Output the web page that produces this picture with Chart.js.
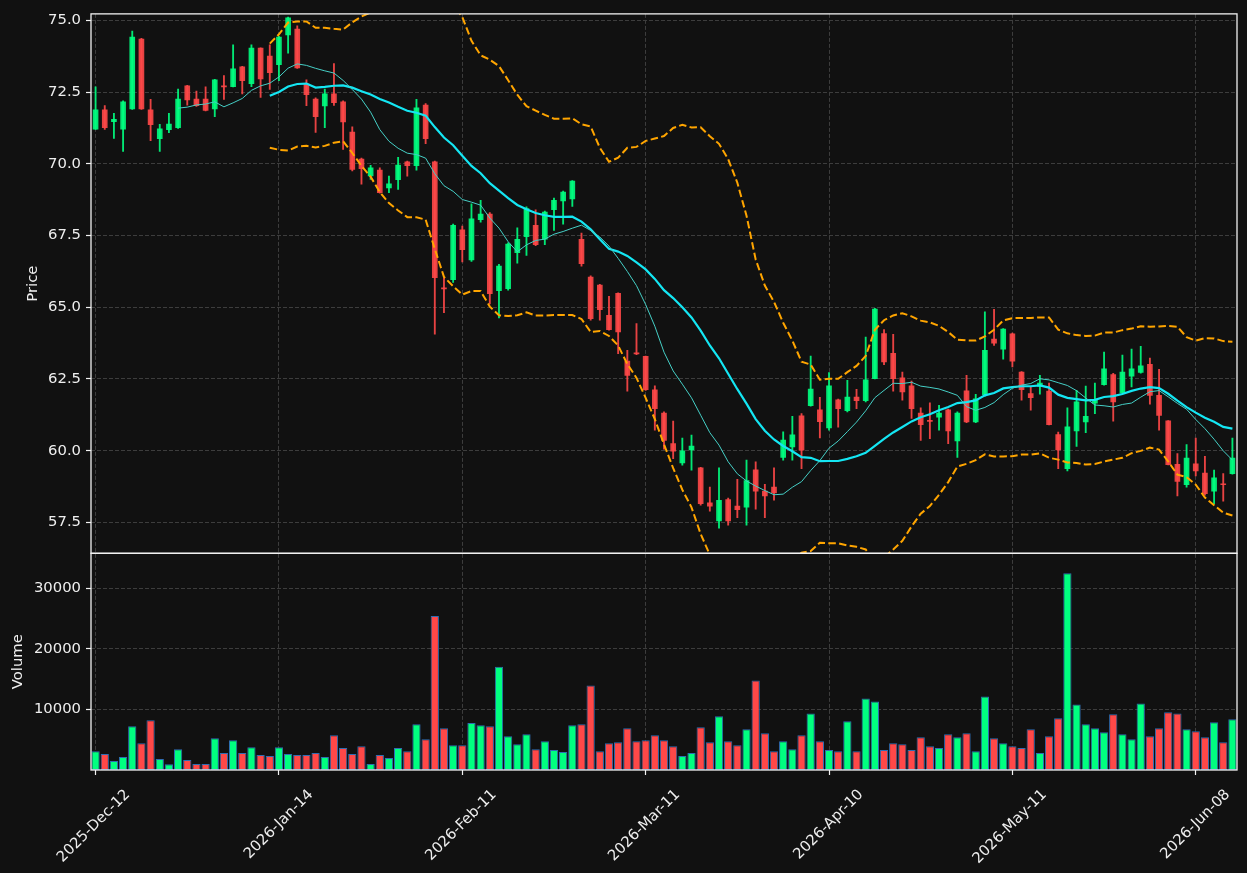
<!DOCTYPE html>
<html>
<head>
<meta charset="utf-8">
<script src="https://cdn.jsdelivr.net/npm/chart.js@4.4.1/dist/chart.umd.min.js"></script>
<style>
  html, body { margin: 0; padding: 0; background: #111111; }
  #wrap { width: 1247px; height: 873px; }
</style>
</head>
<body>
<div id="wrap"><canvas id="chart" width="1247" height="873"></canvas></div>
<script>
// daily OHLCV (125 trading days)
const opens = [71.21,71.88,71.47,71.21,71.92,74.35,71.88,70.88,71.19,71.26,
  72.72,72.26,72.26,71.92,72.72,72.69,73.38,72.80,74.04,73.76,
  73.46,74.50,74.70,72.79,72.26,72.02,72.44,72.16,71.11,70.17,
  69.58,69.78,69.16,69.45,70.07,69.94,72.05,70.07,65.67,65.96,
  67.70,66.65,68.05,68.25,65.58,65.65,66.90,67.46,67.86,67.37,
  68.40,68.71,68.78,67.37,66.05,65.77,64.72,65.49,63.12,63.41,
  63.29,62.12,61.31,60.25,59.57,60.03,59.40,58.18,57.55,58.29,
  58.07,58.03,59.33,58.59,58.73,59.76,60.13,61.21,61.57,61.42,
  60.79,61.77,61.39,61.87,61.74,62.51,64.08,63.39,62.54,62.26,
  61.31,61.04,61.17,61.42,60.34,62.09,61.00,61.95,63.89,63.54,
  64.07,62.74,61.99,62.25,62.08,60.56,59.37,60.69,61.00,61.66,
  62.30,62.65,62.01,62.60,62.73,63.01,61.93,61.04,59.52,58.81,
  59.54,59.22,58.59,58.84,59.20];
const highs = [72.69,72.03,71.76,72.20,74.63,74.38,72.25,71.38,71.76,72.61,
  72.74,72.54,72.69,72.95,73.08,74.15,73.40,74.15,74.05,74.15,
  74.45,75.12,74.81,72.93,72.30,72.61,73.50,72.20,71.29,70.20,
  69.95,69.86,69.57,70.23,70.10,72.25,72.10,70.10,66.03,67.90,
  67.83,68.61,68.73,68.30,66.50,67.25,67.77,68.50,68.40,68.35,
  68.81,69.05,69.42,67.59,66.10,65.80,65.38,65.50,63.50,64.43,
  63.30,62.26,61.35,61.03,60.44,60.54,59.42,58.73,59.40,58.35,
  59.00,59.67,59.61,58.83,59.40,60.66,61.20,61.29,63.30,61.86,
  62.72,61.80,62.45,62.14,63.96,64.96,64.22,64.06,62.74,62.43,
  61.49,61.67,61.58,61.45,61.35,62.63,61.96,64.84,64.93,64.26,
  64.10,62.76,62.22,62.63,62.36,60.65,61.49,62.10,62.25,62.36,
  63.44,62.70,63.33,63.54,63.64,63.23,62.84,61.05,59.90,60.21,
  60.44,59.80,59.32,59.20,60.44];
const lows = [71.20,71.20,70.89,70.43,71.90,71.90,70.81,70.43,71.09,71.24,
  72.05,72.00,71.85,71.65,72.25,72.68,72.44,72.69,72.32,72.60,
  72.90,73.86,73.33,72.03,71.10,71.26,72.04,70.50,69.75,69.29,
  69.46,68.98,69.00,69.11,69.57,69.78,70.70,64.06,64.81,65.87,
  66.58,66.60,67.97,65.12,64.63,65.60,66.54,66.81,67.15,67.18,
  67.68,67.90,68.52,66.43,64.55,64.55,64.20,63.38,62.07,63.35,
  62.10,60.71,60.05,59.72,59.49,59.32,58.10,57.89,57.30,57.40,
  57.66,57.40,57.96,57.66,58.27,59.67,59.67,59.37,61.55,60.44,
  60.71,60.82,61.35,61.46,61.70,62.50,63.00,62.07,61.76,61.12,
  60.36,60.42,60.71,60.24,59.76,60.98,60.98,61.90,63.67,63.19,
  62.92,61.76,61.41,61.97,60.90,59.37,59.29,60.15,60.63,61.29,
  62.28,61.03,62.00,62.22,62.70,61.62,60.71,59.50,58.42,58.73,
  59.12,58.45,58.15,58.24,59.18];
const closes = [71.88,71.26,71.55,72.16,74.42,71.92,71.37,71.22,71.39,72.26,
  72.23,72.03,71.86,72.93,72.68,73.31,72.90,74.04,72.96,73.18,
  74.42,75.09,73.35,72.41,71.65,72.44,72.13,71.46,69.81,69.83,
  69.86,69.00,69.30,69.96,69.94,71.95,70.88,66.03,65.64,67.86,
  67.01,68.08,68.25,65.47,66.44,67.20,67.37,68.44,67.18,68.32,
  68.73,69.02,69.40,66.52,64.60,64.92,64.22,64.14,62.62,63.37,
  62.13,61.46,60.36,59.98,59.99,60.16,58.15,58.06,58.27,57.55,
  57.94,58.96,58.59,58.42,58.53,60.37,60.55,60.02,62.15,61.01,
  62.26,61.46,61.87,61.74,62.47,64.94,63.09,62.51,62.05,61.46,
  60.91,61.02,61.31,60.69,61.31,61.00,61.81,63.50,63.75,64.24,
  63.12,62.13,61.85,62.36,60.91,60.03,60.83,61.70,61.20,61.79,
  62.85,61.70,62.74,62.85,62.96,61.93,61.23,59.51,58.93,59.74,
  59.29,58.50,59.05,58.81,59.74];
const volumes = [3100,2620,1480,2130,7210,4430,8200,1800,930,3440,
  1640,980,980,5250,2790,4920,2790,3770,2460,2300,
  3770,2620,2460,2460,2790,2130,5740,3610,2620,3930,
  980,2460,1970,3610,3110,7540,5080,25410,6890,4100,
  4100,7760,7380,7210,17050,5570,4260,5900,3440,4750,
  3280,2950,7380,7540,13930,3110,4430,4590,6890,4750,
  4920,5740,4920,3930,2300,2790,7050,4590,8850,4750,
  4100,6720,14750,6070,3110,4750,3440,5740,9340,4750,
  3280,3110,8030,3110,11800,11310,3280,4430,4260,3280,
  5410,3930,3610,5900,5410,6070,3110,12130,5250,4430,
  3930,3610,6720,2790,5570,8520,32460,10820,7540,6890,
  6230,9180,5900,5080,10980,5570,6890,9510,9340,6720,
  6390,5410,7870,4590,8360];

// x tick labels, one every 20 bars
const tickLabels = ['2025-Dec-12','2026-Jan-14','2026-Feb-11','2026-Mar-11','2026-Apr-10','2026-May-11','2026-Jun-08'];
const tickEvery = 20;
const priceTicks = [57.5, 60.0, 62.5, 65.0, 67.5, 70.0, 72.5, 75.0];
const volumeTicks = [10000, 20000, 30000];

// moving averages / bollinger bands of the close
function rolling(n, fn) {
  return closes.map((_, i) => i < n - 1 ? null : fn(closes.slice(i - n + 1, i + 1)));
}
const mean = a => a.reduce((s, v) => s + v, 0) / a.length;
const std = a => { const m = mean(a); return Math.sqrt(a.reduce((s, v) => s + (v - m) * (v - m), 0) / (a.length - 1)); };
const ma10 = rolling(10, mean);
const ma20 = rolling(20, mean);
const bbUp = rolling(20, a => mean(a) + 2 * std(a));
const bbLow = rolling(20, a => mean(a) - 2 * std(a));

const isUp = closes.map((c, i) => c >= opens[i]);
const candleColors = isUp.map(u => u ? 'rgba(0,255,128,0.9)' : 'rgba(255,72,72,0.9)');
const volColors = isUp.map(u => u ? '#00ff80' : '#ff4848');

const txt = '#eeeeee';
const gridCol = '#3d3d3d';
const font = { family: 'DejaVu Sans', size: 14.8 };

const bg = {
  id: 'bg',
  beforeDraw(chart) {
    const c = chart.ctx;
    c.save();
    c.fillStyle = '#111111';
    c.fillRect(0, 0, chart.width, chart.height);
    c.restore();
  }
};

// keep the price series inside the price panel
const panelClip = {
  id: 'panelClip',
  beforeDatasetDraw(chart, args) {
    const ds = chart.data.datasets[args.index];
    if (ds.yAxisID !== 'y') return;
    const s = chart.scales.y, a = chart.chartArea;
    chart.ctx.save();
    chart.ctx.beginPath();
    chart.ctx.rect(a.left, s.top, a.right - a.left, s.bottom - s.top);
    chart.ctx.clip();
  },
  afterDatasetDraw(chart, args) {
    const ds = chart.data.datasets[args.index];
    if (ds.yAxisID !== 'y') return;
    chart.ctx.restore();
  }
};

const frames = {
  id: 'frames',
  afterDraw(chart) {
    const c = chart.ctx, a = chart.chartArea;
    c.save();
    c.strokeStyle = '#f2f2f2';
    c.lineWidth = 1.3;
    ['y', 'yv'].forEach(id => {
      const s = chart.scales[id];
      c.strokeRect(a.left, s.top, a.right - a.left, s.bottom - s.top);
    });
    c.restore();
  }
};

function gridOpts() {
  return { color: gridCol, lineWidth: 1, drawTicks: true, tickLength: 5, tickColor: '#f2f2f2', tickWidth: 1.2, tickBorderDash: [] };
}

new Chart(document.getElementById('chart'), {
  type: 'bar',
  data: {
    labels: closes.map((_, i) => i),
    datasets: [
      { type: 'line', label: 'MA10', data: ma10, yAxisID: 'y', borderColor: '#45cfc6', borderWidth: 1, pointRadius: 0, tension: 0, order: 0 },
      { type: 'line', label: 'MA20', data: ma20, yAxisID: 'y', borderColor: '#14e6f3', borderWidth: 2.2, pointRadius: 0, tension: 0, order: 0 },
      { type: 'line', label: 'BB upper', data: bbUp, yAxisID: 'y', borderColor: '#ffa500', borderWidth: 2, borderDash: [7.5, 3.3], pointRadius: 0, tension: 0, order: 0 },
      { type: 'line', label: 'BB lower', data: bbLow, yAxisID: 'y', borderColor: '#ffa500', borderWidth: 2, borderDash: [7.5, 3.3], pointRadius: 0, tension: 0, order: 0 },
      { label: 'body', data: opens.map((o, i) => [o, closes[i]]), yAxisID: 'y', backgroundColor: candleColors,
        barThickness: 5, minBarLength: 1, grouped: false, order: 1 },
      { label: 'wick', data: lows.map((l, i) => [l, highs[i]]), yAxisID: 'y', backgroundColor: candleColors,
        barThickness: 1.2, grouped: false, order: 2 },
      { label: 'Volume', data: volumes, yAxisID: 'yv', backgroundColor: volColors, borderColor: '#2f6db3',
        borderWidth: 1, borderSkipped: false, barPercentage: 0.9, categoryPercentage: 1, grouped: false, order: 3 }
    ]
  },
  options: {
    responsive: false,
    animation: false,
    devicePixelRatio: 1,
    layout: { padding: { top: 11, right: 10, left: 0, bottom: 0 } },
    plugins: { legend: { display: false }, tooltip: { enabled: false } },
    events: [],
    scales: {
      x: {
        type: 'category',
        offset: true,
        grid: Object.assign(gridOpts(), { offset: false }),
        border: { display: false, dash: [4, 2] },
        ticks: {
          autoSkip: false, maxRotation: 45, minRotation: 45, color: txt, font: font,
          padding: 11, labelOffset: 32,
          callback: (v, i) => i % tickEvery === 0 ? tickLabels[i / tickEvery] : null
        },
        afterFit: s => { s.height = 103; }
      },
      y: {
        type: 'linear', position: 'left', stack: 'panels', stackWeight: 541.5, weight: 1,
        min: 56.42, max: 75.23,
        afterBuildTicks: s => { s.ticks = priceTicks.map(v => ({ value: v })); },
        grid: gridOpts(),
        border: { display: false, dash: [4, 2] },
        ticks: { color: txt, font: font, padding: 5, callback: v => v.toFixed(1) },
        title: { display: true, text: 'Price', color: txt, font: font, padding: { top: 24.2, bottom: 0 } },
        afterFit: s => { s.width = 91; }
      },
      yv: {
        type: 'linear', position: 'left', stack: 'panels', stackWeight: 217.5, weight: 0,
        min: 0, max: 35750,
        afterBuildTicks: s => { s.ticks = volumeTicks.map(v => ({ value: v })); },
        grid: gridOpts(),
        border: { display: false, dash: [4, 2] },
        ticks: { color: txt, font: font, padding: 5, callback: v => String(v) },
        title: { display: true, text: 'Volume', color: txt, font: font, padding: { top: 9.2, bottom: 0 } },
        afterFit: s => { s.width = 91; }
      }
    }
  },
  plugins: [bg, panelClip, frames]
});
</script>
</body>
</html>
